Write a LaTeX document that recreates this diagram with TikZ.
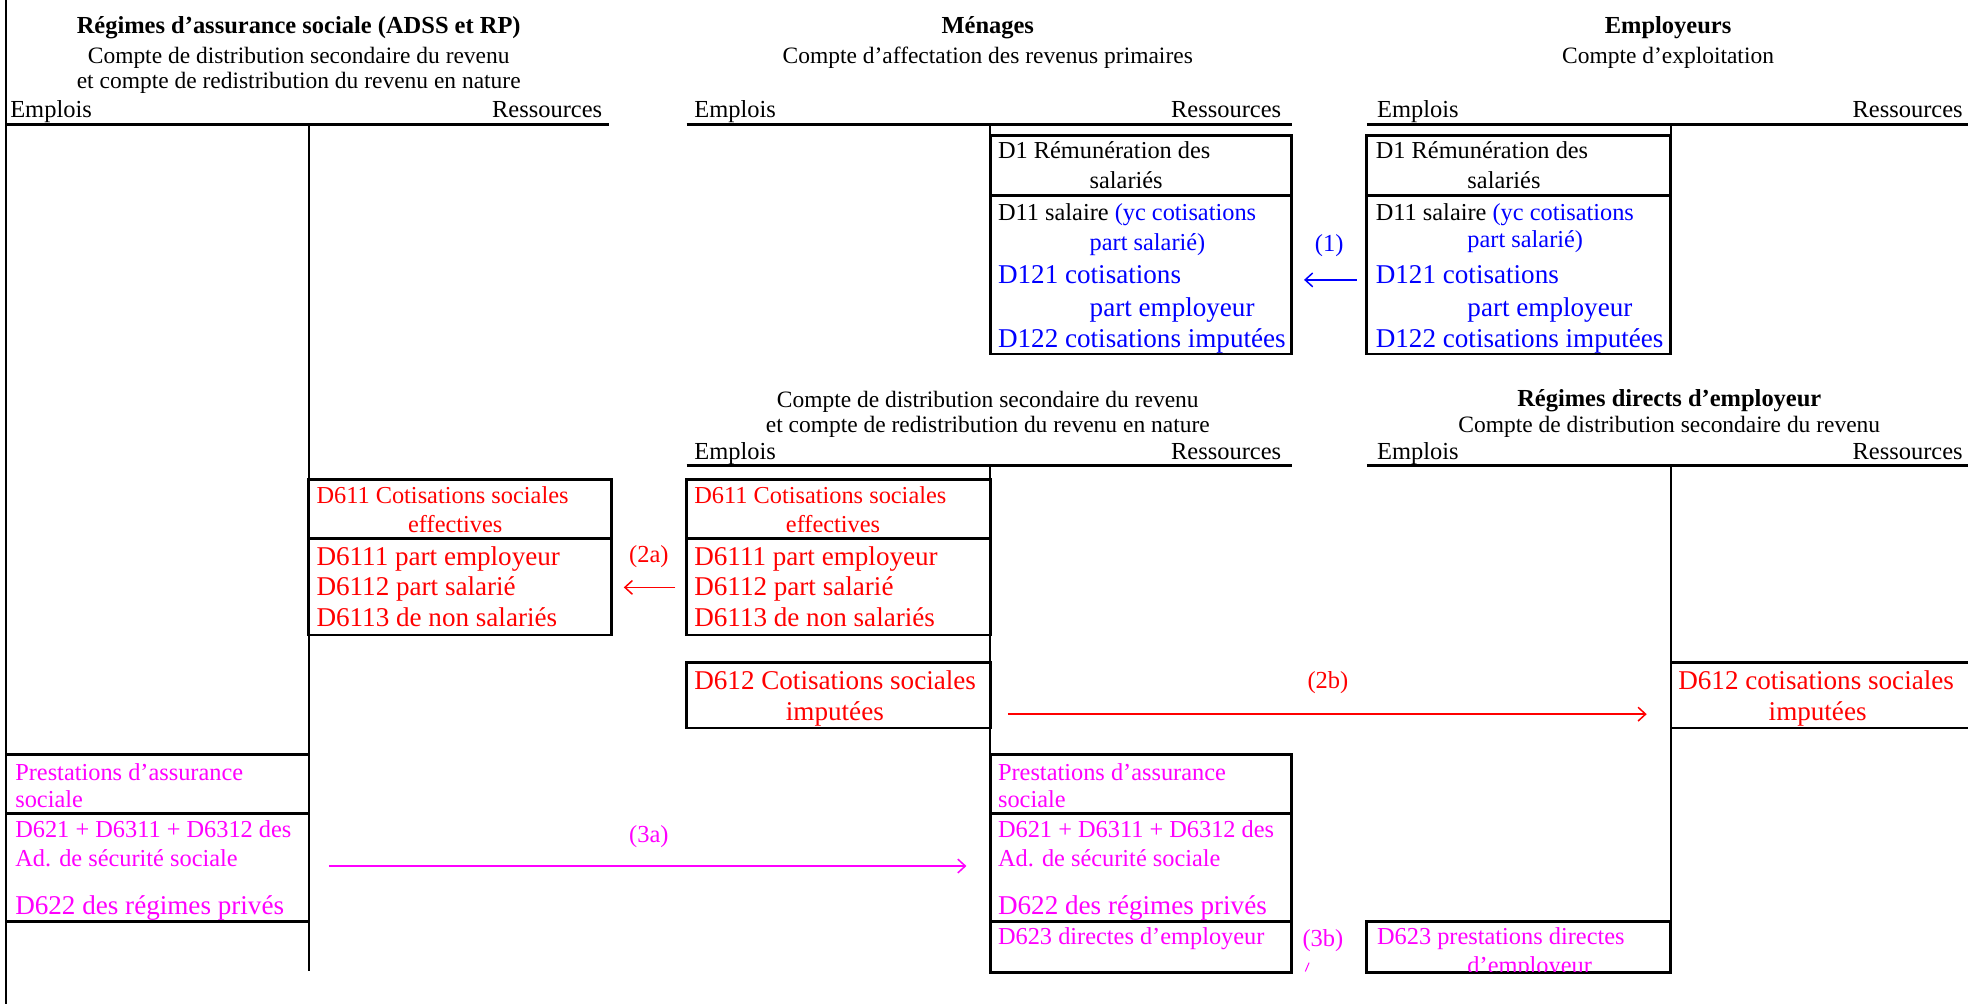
\documentclass[tikz,border=0pt]{standalone}
\usepackage{fontspec}
\setmainfont{Liberation Serif}
\usetikzlibrary{arrows.meta}
\definecolor{xblue}{RGB}{0,0,255}
\definecolor{xred}{RGB}{255,0,0}
\definecolor{xmag}{RGB}{255,0,255}
\begin{document}
\begin{tikzpicture}[x=1pt,y=-1pt,
  txt/.style={inner sep=0pt, text height=13pt, text depth=0pt},
  hd/.style={txt, font=\fontsize{18.7}{21}\selectfont},
  ttl/.style={txt, font=\fontsize{19.5}{22}\selectfont\bfseries},
  lbl/.style={txt, font=\fontsize{19.5}{22}\selectfont},
  sm/.style={txt, anchor=west, font=\fontsize{19.4}{22}\selectfont},
  lg/.style={inner sep=0pt, text height=14.5pt, text depth=0pt, anchor=west, font=\fontsize{21.6}{25}\selectfont},
  thick line/.style={line width=2.2pt},
  thin line/.style={line width=1.6pt},
  flow/.style={line width=1.2pt, -{Straight Barb[length=6pt,width=11pt]}},
]
\useasboundingbox (0,0) rectangle (1568,800);

% ---------- frame and T-account skeletons ----------
\draw[thin line] (5,0) -- (5,800);
% A: Regimes d'assurance sociale
\draw[thick line] (5,99) -- (485,99);
\draw[thin line] (246,99) -- (246,774);
% Menages (primary)
\draw[thick line] (547,99) -- (1029,99);
\draw[thin line] (789,99) -- (789,282);
% Employeurs
\draw[thick line] (1089,99) -- (1568,99);
\draw[thin line] (1331,99) -- (1331,282);
% Menages (secondary)
\draw[thick line] (547,371) -- (1029,371);
\draw[thin line] (789,371) -- (789,775);
% Regimes directs
\draw[thick line] (1089,371) -- (1568,371);
\draw[thin line] (1331,371) -- (1331,775);

% ---------- boxes ----------
\draw[thick line] (789,108) rectangle (1029,282) (789,156) -- (1029,156);
\draw[thick line] (1089,108) rectangle (1331,282) (1089,156) -- (1331,156);
\draw[thick line] (246,382) rectangle (487,506) (246,429) -- (487,429);
\draw[thick line] (547,382) rectangle (789,506) (547,429) -- (789,429);
\draw[thick line] (547,528) rectangle (789,580);
\draw[thick line] (1331,528) -- (1568,528) (1331,580) -- (1568,580);
\draw[thick line] (5,601) -- (246,601) (5,648) -- (246,648) (5,734) -- (246,734);
\draw[thick line] (789,601) rectangle (1029,775) (789,648) -- (1029,648) (789,734) -- (1029,734);
\draw[thick line] (1089,734) rectangle (1331,775);

% ---------- headings ----------
\node[ttl] (tA) at (238,20) {Régimes d’assurance sociale (ADSS et RP)};
\node[hd] (sA1) at (238,44) {Compte de distribution secondaire du revenu};
\node[hd] (sA2) at (238,64) {et compte de redistribution du revenu en nature};
\node[lbl, anchor=west] (eA) at (8,87) {Emplois};
\node[lbl, anchor=east] (rA) at (480,87) {Ressources};

\node[ttl] (tM) at (787,20) {Ménages};
\node[hd] (sM) at (787,44) {Compte d’affectation des revenus primaires};
\node[lbl, anchor=west] (eM) at (553,87) {Emplois};
\node[lbl, anchor=east] (rM) at (1021,87) {Ressources};

\node[ttl] (tE) at (1329,20) {Employeurs};
\node[hd] (sE) at (1329,44) {Compte d’exploitation};
\node[lbl, anchor=west] (eE) at (1097,87) {Emplois};
\node[lbl, anchor=east] (rE) at (1564,87) {Ressources};

\node[hd] (sM2a) at (787,318) {Compte de distribution secondaire du revenu};
\node[hd] (sM2b) at (787,338) {et compte de redistribution du revenu en nature};
\node[lbl, anchor=west] (eM2) at (553,360) {Emplois};
\node[lbl, anchor=east] (rM2) at (1021,360) {Ressources};

\node[ttl] (tR) at (1330,317) {Régimes directs d’employeur};
\node[hd] (sR) at (1330,338) {Compte de distribution secondaire du revenu};
\node[lbl, anchor=west] (eR) at (1097,360) {Emplois};
\node[lbl, anchor=east] (rR) at (1564,360) {Ressources};

% ---------- D1 boxes ----------
\node[sm] (m1) at (795,120) {D1 Rémunération des};
\node[sm] (m2) at (868,144) {salariés};
\node[sm] (m3) at (795,169) {D11 salaire \textcolor{xblue}{(yc cotisations}};
\node[sm, xblue] (m4) at (868,193) {part salarié)};
\node[lg, xblue] (m5) at (795,219) {D121 cotisations};
\node[lg, xblue] (m6) at (868,245) {part employeur};
\node[lg, xblue] (m7) at (795,270) {D122 cotisations imputées};

\node[sm] (e1) at (1096,120) {D1 Rémunération des};
\node[sm] (e2) at (1169,144) {salariés};
\node[sm] (e3) at (1096,169) {D11 salaire \textcolor{xblue}{(yc cotisations}};
\node[sm, xblue] (e4) at (1169,191) {part salarié)};
\node[lg, xblue] (e5) at (1096,219) {D121 cotisations};
\node[lg, xblue] (e6) at (1169,245) {part employeur};
\node[lg, xblue] (e7) at (1096,270) {D122 cotisations imputées};

% ---------- D61 boxes ----------
\node[sm, xred] (a1) at (252,395) {D611 Cotisations sociales};
\node[sm, xred] (a2) at (325,418) {effectives};
\node[lg, xred] (a3) at (252,443) {D6111 part employeur};
\node[lg, xred] (a4) at (252,467) {D6112 part salarié};
\node[lg, xred] (a5) at (252,492) {D6113 de non salariés};

\node[sm, xred] (b1) at (553,395) {D611 Cotisations sociales};
\node[sm, xred] (b2) at (626,418) {effectives};
\node[lg, xred] (b3) at (553,443) {D6111 part employeur};
\node[lg, xred] (b4) at (553,467) {D6112 part salarié};
\node[lg, xred] (b5) at (553,492) {D6113 de non salariés};

\node[lg, xred] (b6) at (553,542) {D612 Cotisations sociales};
\node[lg, xred] (b7) at (626,567) {imputées};

\node[lg, xred] (c1) at (1337,542) {D612 cotisations sociales};
\node[lg, xred] (c2) at (1409,567) {imputées};

% ---------- D62 boxes ----------
\node[sm, xmag] (p1) at (12,615) {Prestations d’assurance};
\node[sm, xmag] (p2) at (12,637) {sociale};
\node[sm, xmag] (p3) at (12,661) {D621 + D6311 + D6312 des};
\node[sm, xmag] (p4) at (12,684) {Ad. de sécurité sociale};
\node[lg, xmag] (p5) at (12,721) {D622 des régimes privés};

\node[sm, xmag] (q1) at (795,615) {Prestations d’assurance};
\node[sm, xmag] (q2) at (795,637) {sociale};
\node[sm, xmag] (q3) at (795,661) {D621 + D6311 + D6312 des};
\node[sm, xmag] (q4) at (795,684) {Ad. de sécurité sociale};
\node[lg, xmag] (q5) at (795,721) {D622 des régimes privés};
\node[sm, xmag] (q6) at (795,746) {D623 directes d’employeur};

\node[sm, xmag] (r1) at (1097,746) {D623 prestations directes};
\begin{scope}
  \clip (1089,734) rectangle (1331,774);
  \node[sm, xmag] (r2) at (1169,769) {d’employeur};
\end{scope}

% ---------- flows ----------
\coordinate (f1s) at (1081,223); \coordinate (f1e) at (1039,223);
\draw[flow, xblue] (f1s) -- (f1e);
\node[lbl, xblue] (l1) at (1059,194) {(1)};

\coordinate (f2as) at (538,468); \coordinate (f2ae) at (497,468);
\draw[flow, xred] (f2as) -- (f2ae);
\node[lbl, xred] (l2a) at (517,442) {(2a)};

\coordinate (f2bs) at (803,569); \coordinate (f2be) at (1312,569);
\draw[flow, xred] (f2bs) -- (f2be);
\node[lbl, xred] (l2b) at (1058,542) {(2b)};

\coordinate (f3as) at (262,690); \coordinate (f3ae) at (770,690);
\draw[flow, xmag] (f3as) -- (f3ae);
\node[lbl, xmag] (l3a) at (517,665) {(3a)};

\node[lbl, xmag] (l3b) at (1054,748) {(3b)};
\coordinate (t3s) at (1040,774); \coordinate (t3e) at (1043,767);
\draw[xmag, line width=0.8pt] (t3s) -- (t3e);
\end{tikzpicture}
\end{document}
